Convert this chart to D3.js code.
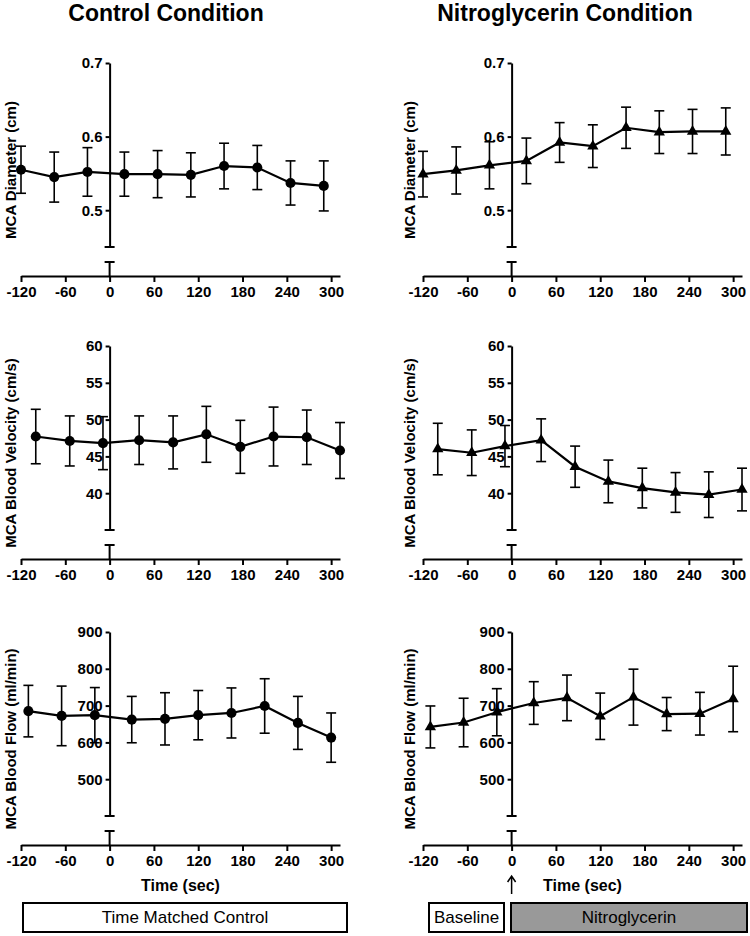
<!DOCTYPE html>
<html>
<head>
<meta charset="utf-8">
<script src="https://cdn.jsdelivr.net/npm/d3@7"></script>
<style>
  body { margin: 0; background: #fff; }
  svg { display: block; font-family: "Liberation Sans", Arial, sans-serif; }
</style>
</head>
<body>
<div id="chart"></div>
<script>
// time points (sec) for each row of panels
var diamTimes = [-120, -75, -30, 20, 65, 110, 155, 200, 245, 290];
var velTimes = [-100, -54, -9, 40, 86, 131, 177, 222, 267, 312];
var flowTimes = [-110, -65, -20, 30, 75, 120, 165, 210, 255, 300];

// MCA diameter (cm)
var diamCtrl = [0.555, 0.545, 0.552, 0.549, 0.549, 0.548, 0.560, 0.558, 0.537, 0.533];
var diamCtrlErr = [0.032, 0.034, 0.033, 0.030, 0.032, 0.030, 0.031, 0.030, 0.030, 0.034];
var diamNtg = [0.549, 0.554, 0.561, 0.567, 0.592, 0.587, 0.612, 0.606, 0.607, 0.607];
var diamNtgErr = [0.031, 0.032, 0.032, 0.031, 0.027, 0.029, 0.028, 0.029, 0.030, 0.032];

// MCA blood velocity (cm/s)
var velCtrl = [47.7, 47.1, 46.8, 47.2, 46.9, 48.0, 46.3, 47.7, 47.6, 45.8];
var velCtrlErr = [3.7, 3.4, 3.6, 3.3, 3.6, 3.8, 3.6, 4.0, 3.7, 3.8];
var velNtg = [46.0, 45.5, 46.4, 47.2, 43.6, 41.6, 40.7, 40.1, 39.8, 40.5];
var velNtgErr = [3.5, 3.1, 2.8, 2.9, 2.8, 2.9, 2.7, 2.7, 3.1, 2.9];

// MCA blood flow (ml/min)
var flowCtrl = [685, 672, 674, 662, 664, 674, 680, 699, 653, 613];
var flowCtrlErr = [70, 81, 75, 63, 71, 67, 68, 74, 72, 67];
var flowNtg = [642, 654, 682, 707, 721, 671, 723, 677, 678, 718];
var flowNtgErr = [57, 66, 64, 58, 62, 63, 76, 45, 58, 89];

var xTicks = [-120, -60, 0, 60, 120, 180, 240, 300];
var diamTicks = [0.5, 0.6, 0.7];
var velTicks = [40, 45, 50, 55, 60];
var flowTicks = [500, 600, 700, 800, 900];

var titles = ['Control Condition', 'Nitroglycerin Condition'];
var yLabels = ['MCA Diameter (cm)', 'MCA Blood Velocity (cm/s)', 'MCA Blood Flow (ml/min)'];

var width = 750;
var height = 936;

var svg = d3.select('#chart')
	.append('svg')
	.attr('width', width)
	.attr('height', height);

// layout
var cols = [
	{x0: 21, x1: 340, labelX: 10, titleX: 166, marker: 'circle'},
	{x0: 423, x1: 742, labelX: 409, titleX: 565, marker: 'triangle'}
];
var rows = [
	{top: 63, bot: 247, domain: [0.45, 0.7], ticks: diamTicks, fmt: d3.format('.1f'), times: diamTimes,
	 series: [[diamCtrl, diamCtrlErr], [diamNtg, diamNtgErr]]},
	{top: 346, bot: 530, domain: [35, 60], ticks: velTicks, fmt: d3.format('d'), times: velTimes,
	 series: [[velCtrl, velCtrlErr], [velNtg, velNtgErr]]},
	{top: 632, bot: 816, domain: [400, 900], ticks: flowTicks, fmt: d3.format('d'), times: flowTimes,
	 series: [[flowCtrl, flowCtrlErr], [flowNtg, flowNtgErr]]}
];

// plain hyphen for negatives, like the original
function xFmt(d){
	return String(d);
}

function styleAxis(g) {
	g.attr('font-family', '"Liberation Sans", Arial, sans-serif')
		.attr('font-size', 15)
		.attr('font-weight', 'bold');
	g.selectAll('path, line').attr('stroke', '#000').attr('stroke-width', 2);
	g.selectAll('text').attr('fill', '#000');
}

titles.forEach(function(t, ci){
	svg.append('text')
		.attr('x', cols[ci].titleX)
		.attr('y', 21)
		.attr('text-anchor', 'middle')
		.attr('font-size', 23)
		.attr('font-weight', 'bold')
		.text(t);
});

rows.forEach(function(r, ri){
	cols.forEach(function(c, ci){
		var g = svg.append('g');
		var x = d3.scaleLinear().domain([-120, 312]).range([c.x0, c.x1]);
		var y = d3.scaleLinear().domain(r.domain).range([r.bot, r.top]);
		var xAxisY = r.bot + 29;
		var x0 = x(0);

		// x axis
		g.append('g')
			.attr('transform', 'translate(0,' + xAxisY + ')')
			.call(d3.axisBottom(x).tickValues(xTicks).tickSize(6).tickSizeOuter(0).tickPadding(4).tickFormat(xFmt))
			.call(styleAxis);

		// y axis (broken)
		g.append('g')
			.attr('transform', 'translate(' + x0 + ',0)')
			.call(d3.axisLeft(y).tickValues(r.ticks).tickSize(4).tickSizeOuter(0).tickPadding(3).tickFormat(r.fmt))
			.call(styleAxis);
		g.append('line')
			.attr('x1', x0 - 5).attr('x2', x0 + 5)
			.attr('y1', r.bot).attr('y2', r.bot)
			.attr('stroke', '#000').attr('stroke-width', 2);
		g.append('line')
			.attr('x1', x0).attr('x2', x0)
			.attr('y1', r.bot + 15).attr('y2', xAxisY)
			.attr('stroke', '#000').attr('stroke-width', 2);
		g.append('line')
			.attr('x1', x0 - 5).attr('x2', x0 + 5)
			.attr('y1', r.bot + 15).attr('y2', r.bot + 15)
			.attr('stroke', '#000').attr('stroke-width', 2);

		// y label
		g.append('text')
			.attr('transform', 'translate(' + c.labelX + ',' + (r.top + 107) + ') rotate(-90)')
			.attr('text-anchor', 'middle')
			.attr('dominant-baseline', 'central')
			.attr('font-size', 15)
			.attr('font-weight', 'bold')
			.text(yLabels[ri]);

		var vals = r.series[ci][0];
		var errs = r.series[ci][1];
		var pts = r.times.map(function(t, i){
			return {t: t, v: vals[i], e: errs[i]};
		});

		// error bars
		var eb = g.selectAll('.eb')
			.data(pts)
			.enter()
			.append('g')
			.attr('stroke', '#000')
			.attr('stroke-width', 1.6);
		eb.append('line')
			.attr('x1', function(d){ return x(d.t); })
			.attr('x2', function(d){ return x(d.t); })
			.attr('y1', function(d){ return y(d.v - d.e); })
			.attr('y2', function(d){ return y(d.v + d.e); });
		eb.append('line')
			.attr('x1', function(d){ return x(d.t) - 5; })
			.attr('x2', function(d){ return x(d.t) + 5; })
			.attr('y1', function(d){ return y(d.v + d.e); })
			.attr('y2', function(d){ return y(d.v + d.e); });
		eb.append('line')
			.attr('x1', function(d){ return x(d.t) - 5; })
			.attr('x2', function(d){ return x(d.t) + 5; })
			.attr('y1', function(d){ return y(d.v - d.e); })
			.attr('y2', function(d){ return y(d.v - d.e); });

		// line
		var line = d3.line()
			.x(function(d){ return x(d.t); })
			.y(function(d){ return y(d.v); });
		g.append('path')
			.datum(pts)
			.attr('d', line)
			.attr('fill', 'none')
			.attr('stroke', '#000')
			.attr('stroke-width', 2.2);

		// markers
		var sym = d3.symbol()
			.type(c.marker === 'circle' ? d3.symbolCircle : d3.symbolTriangle)
			.size(c.marker === 'circle' ? 80 : 55);
		g.selectAll('.mk')
			.data(pts)
			.enter()
			.append('path')
			.attr('d', sym)
			.attr('transform', function(d){
				return 'translate(' + x(d.t) + ',' + y(d.v) + ')';
			})
			.attr('fill', '#000');

		if (ri === 2) {
			g.append('text')
				.attr('x', (c.x0 + c.x1) / 2)
				.attr('y', 891)
				.attr('text-anchor', 'middle')
				.attr('font-size', 16)
				.attr('font-weight', 'bold')
				.text('Time (sec)');
		}
	});
});

// condition bars
var bars = [
	{x: 23, w: 324, fill: '#fff', label: 'Time Matched Control'},
	{x: 429, w: 75, fill: '#fff', label: 'Baseline'},
	{x: 511, w: 236, fill: '#999', label: 'Nitroglycerin'}
];
var bar = svg.selectAll('.bar')
	.data(bars)
	.enter()
	.append('g');
bar.append('rect')
	.attr('x', function(d){ return d.x; })
	.attr('y', 903)
	.attr('width', function(d){ return d.w; })
	.attr('height', 29)
	.attr('fill', function(d){ return d.fill; })
	.attr('stroke', '#000')
	.attr('stroke-width', 2);
bar.append('text')
	.attr('x', function(d){ return d.x + d.w / 2; })
	.attr('y', 917.5)
	.attr('text-anchor', 'middle')
	.attr('dominant-baseline', 'central')
	.attr('font-size', 17)
	.text(function(d){ return d.label; });

// arrow at injection time
var ax = d3.scaleLinear().domain([-120, 312]).range([cols[1].x0, cols[1].x1])(0);
svg.append('path')
	.attr('d', 'M' + ax + ',894 V876 M' + (ax - 4) + ',882 L' + ax + ',876 L' + (ax + 4) + ',882')
	.attr('fill', 'none')
	.attr('stroke', '#000')
	.attr('stroke-width', 1.5);
</script>
</body>
</html>
